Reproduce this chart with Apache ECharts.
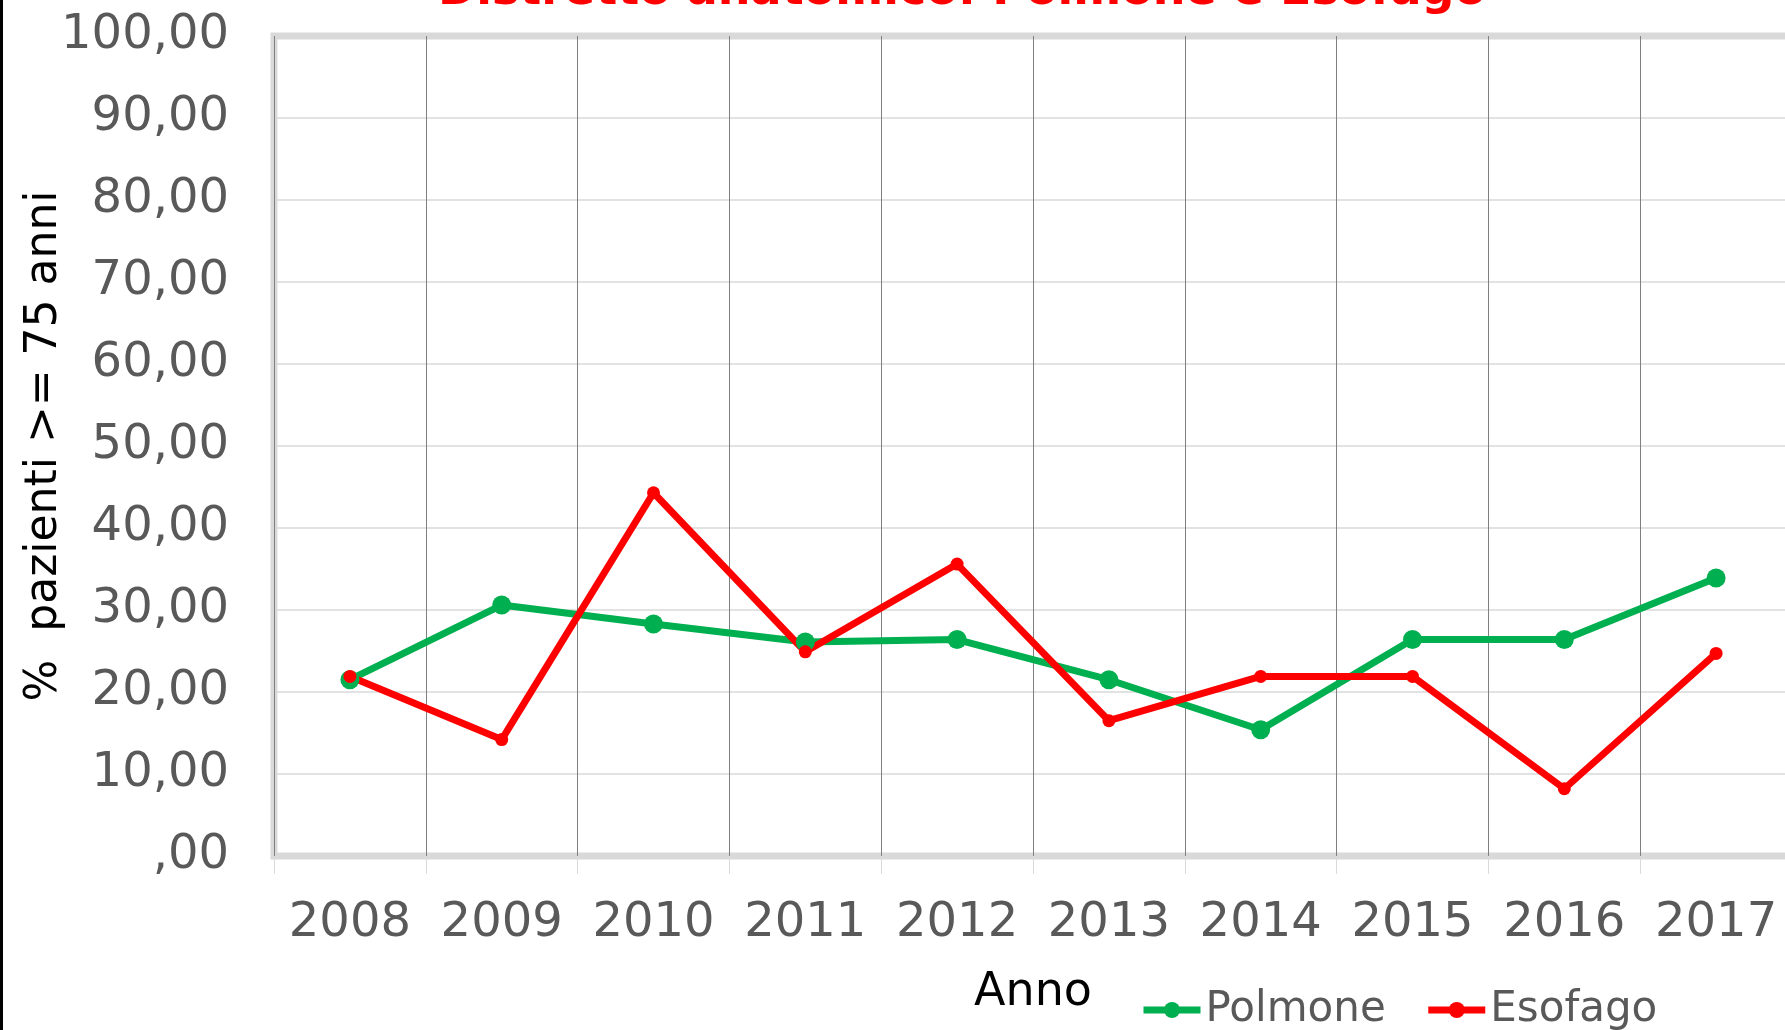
<!DOCTYPE html>
<html>
<head>
<meta charset="utf-8">
<title>Distretto anatomico: Polmone e Esofago</title>
<script src="https://cdn.jsdelivr.net/npm/echarts@6/dist/echarts.min.js"></script>
<style>
    html, body { margin: 0; padding: 0; background: #fff; }
    #chart { width: 1785px; height: 1030px; }
</style>
</head>
<body>
<div id="chart"></div>
<script>
// anni (asse x)
const years = ['2008', '2009', '2010', '2011', '2012', '2013', '2014', '2015', '2016', '2017']
// % pazienti >= 75 anni
const polmone = [21.5, 30.6, 28.3, 26.1, 26.4, 21.5, 15.4, 26.4, 26.4, 33.9]
const esofago = [21.9, 14.2, 44.3, 24.9, 35.6, 16.5, 21.9, 21.9, 8.2, 24.7]
// etichette asse y (virgola decimale)
const yTickLabels = [',00', '10,00', '20,00', '30,00', '40,00', '50,00', '60,00', '70,00', '80,00', '90,00', '100,00']

const chart = echarts.init(document.getElementById('chart'))

chart.setOption({
    animation: false,
    textStyle: { fontFamily: 'DejaVu Sans' },
    title: {
        text: 'Distretto anatomico: Polmone e Esofago',
        left: 438,
        top: -31,
        padding: 0,
        textStyle: {
            color: '#ff0000',
            fontSize: 46,
            fontWeight: 'bold',
            fontFamily: 'DejaVu Sans'
        }
    },
    // bordo nero a sinistra dell'immagine
    graphic: [{
        type: 'rect',
        shape: { x: 0, y: 0, width: 3, height: 1030 },
        style: { fill: '#000' }
    }],
    legend: {
        left: 1135,
        top: 984,
        itemWidth: 57,
        itemHeight: 20,
        itemGap: 39,
        lineStyle: { width: 7 },
        textStyle: { color: '#595959', fontSize: 42, fontFamily: 'DejaVu Sans' },
        data: ['Polmone', 'Esofago']
    },
    grid: {
        left: 274,
        top: 36,
        width: 1518,
        height: 820,
        outerBoundsMode: 'none',
        show: true,
        borderColor: '#d9d9d9',
        borderWidth: 7
    },
    xAxis: {
        type: 'category',
        data: years,
        boundaryGap: true,
        name: 'Anno',
        nameLocation: 'middle',
        nameGap: 114,
        nameMoveOverlap: false,
        nameTextStyle: { color: '#000', fontSize: 46 },
        axisLine: { show: false },
        axisTick: { show: true, interval: 0, length: 18, lineStyle: { color: '#d9d9d9', width: 1 } },
        axisLabel: { color: '#595959', fontSize: 48, margin: 44, interval: 0 },
        splitLine: { show: true, interval: 0, lineStyle: { color: '#7f7f7f', width: 1 } }
    },
    yAxis: {
        type: 'value',
        min: 0,
        max: 100,
        interval: 10,
        name: '%  pazienti >= 75 anni',
        nameLocation: 'middle',
        nameGap: 207,
        nameMoveOverlap: false,
        nameTextStyle: { color: '#000', fontSize: 44 },
        axisLine: { show: false },
        axisTick: { show: false },
        axisLabel: {
            color: '#595959',
            fontSize: 48,
            margin: 45,
            formatter: v => yTickLabels[Math.round(v / 10)]
        },
        splitLine: { lineStyle: { color: '#d9d9d9', width: 1.5 } }
    },
    series: [
        {
            name: 'Polmone',
            type: 'line',
            data: polmone,
            symbol: 'circle',
            symbolSize: 19,
            itemStyle: { color: '#00b050' },
            lineStyle: { color: '#00b050', width: 7 }
        },
        {
            name: 'Esofago',
            type: 'line',
            data: esofago,
            symbol: 'circle',
            symbolSize: 13,
            itemStyle: { color: '#ff0000' },
            lineStyle: { color: '#ff0000', width: 7 }
        }
    ]
})
</script>
</body>
</html>
